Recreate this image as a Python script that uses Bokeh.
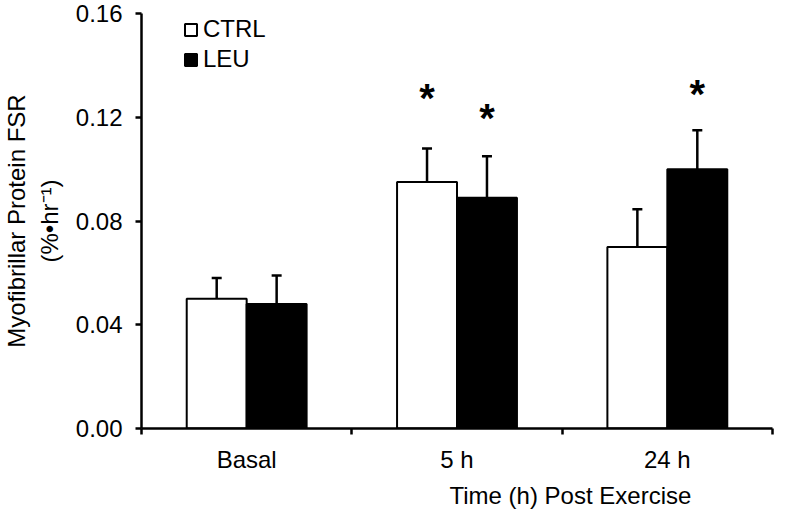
from bokeh.plotting import figure
from bokeh.models import (Range1d, FixedTicker, Whisker, TeeHead, ColumnDataSource,
                          Legend, LegendItem, NumeralTickFormatter, Title)
from bokeh.core.properties import value
from bokeh.embed import file_html
from bokeh.resources import INLINE

# ---------------- data ----------------
categories = ["Basal", "5 h", "24 h"]
ctrl_mean = [0.050, 0.095, 0.070]
ctrl_se = [0.008, 0.013, 0.0145]
leu_mean = [0.048, 0.089, 0.100]
leu_se = [0.011, 0.016, 0.015]
y_ticks = [0.00, 0.04, 0.08, 0.12, 0.16]
# height of significance asterisks (None = not significant)
star_ctrl = [None, 0.131, None]
star_leu = [None, 0.123, 0.1325]

FONT = "Liberation Sans"
FS = "24px"

p = figure(width=774, height=512, output_backend="svg", toolbar_location=None,
           x_range=Range1d(0, 3), y_range=Range1d(0, 0.16),
           min_border_left=138, min_border_right=2, min_border_top=13, min_border_bottom=83)
p.outline_line_color = None
p.grid.visible = False
p.background_fill_color = "white"

centers = [i + 0.5 for i in range(len(categories))]
bw = 0.285
ctrl_x = [c - bw / 2 for c in centers]
leu_x = [c + bw / 2 for c in centers]

src_c = ColumnDataSource(dict(x=ctrl_x, top=ctrl_mean,
                              up=[m + s for m, s in zip(ctrl_mean, ctrl_se)]))
src_l = ColumnDataSource(dict(x=leu_x, top=leu_mean,
                              up=[m + s for m, s in zip(leu_mean, leu_se)]))

r_c = p.vbar(x="x", top="top", bottom=0, width=bw, source=src_c,
             fill_color="white", line_color="black", line_width=2)
r_l = p.vbar(x="x", top="top", bottom=0, width=bw, source=src_l,
             fill_color="black", line_color="black", line_width=2)

for src in (src_c, src_l):
    w = Whisker(base="x", lower="top", upper="up", source=src, dimension="height",
                line_color="black", line_width=2.5, lower_head=None,
                upper_head=TeeHead(size=10, line_width=2.5, line_color="black"),
                level="overlay")
    p.add_layout(w)

# asterisks
sx, sy = [], []
for xs, ys in ((ctrl_x, star_ctrl), (leu_x, star_leu)):
    for x, y in zip(xs, ys):
        if y is not None:
            sx.append(x)
            sy.append(y)
p.text(x=sx, y=sy, text=["*"] * len(sx), text_font=value(FONT), text_font_size="40px",
       text_font_style="bold", text_align="center", text_baseline="middle",
       text_color="black", y_offset=9)

# y axis
ya = p.yaxis[0]
ya.ticker = FixedTicker(ticks=y_ticks)
ya.formatter = NumeralTickFormatter(format="0.00")
ya.major_tick_out = 6
ya.major_tick_in = 0
ya.minor_tick_out = 0
ya.minor_tick_in = 0
ya.axis_line_width = 2.5
ya.axis_line_color = "black"
ya.major_tick_line_width = 2.5
ya.major_tick_line_color = "black"
ya.major_label_text_font = FONT
ya.major_label_text_font_size = FS
ya.major_label_text_color = "black"
ya.major_label_standoff = 13
ya.axis_label = "Myofibrillar Protein FSR\n(%•hr⁻¹)"
ya.axis_label_text_font = FONT
ya.axis_label_text_font_size = FS
ya.axis_label_text_font_style = "normal"
ya.axis_label_text_color = "black"
ya.axis_label_standoff = 10
ya.axis_label_text_line_height = 1.2

# x axis (ticks between groups, labels at group centres)
xa = p.xaxis[0]
xa.ticker = FixedTicker(ticks=centers, minor_ticks=[0, 1, 2, 3])
xa.major_label_overrides = {c: lab for c, lab in zip(centers, categories)}
xa.major_tick_out = 0
xa.major_tick_in = 0
xa.minor_tick_out = 6
xa.minor_tick_in = 0
xa.minor_tick_line_width = 2.5
xa.minor_tick_line_color = "black"
xa.axis_line_width = 2.5
xa.axis_line_color = "black"
xa.major_label_text_font = FONT
xa.major_label_text_font_size = FS
xa.major_label_text_color = "black"
xa.major_label_standoff = 11

# x axis title, set off to the right as in the original
p.add_layout(Title(text="Time (h) Post Exercise", align="left", offset=308, standoff=8,
                   text_font=FONT, text_font_size=FS, text_font_style="normal",
                   text_color="black", vertical_align="bottom"), "below")

legend = Legend(items=[LegendItem(label="CTRL", renderers=[r_c]),
                       LegendItem(label="LEU", renderers=[r_l])],
                location=(42, 354), orientation="vertical",
                glyph_width=15, glyph_height=15, label_height=30, label_standoff=5,
                spacing=0, padding=0, margin=0,
                border_line_color=None, background_fill_alpha=0,
                label_text_font=FONT, label_text_font_size=FS, label_text_color="black")
p.add_layout(legend)

open("out.html", "w").write(file_html(p, INLINE))
